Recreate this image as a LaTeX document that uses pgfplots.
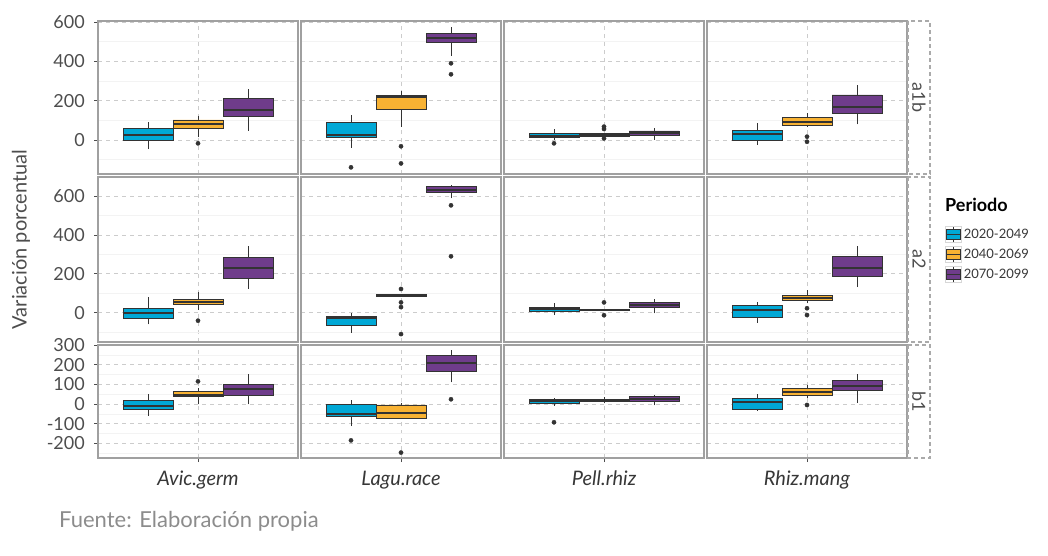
\documentclass[border=0pt]{standalone}
\usepackage{fontspec}
\setmainfont{Lato}
\usepackage{pgfplots}
\pgfplotsset{compat=1.18}

\definecolor{cblue}{RGB}{0,168,214}
\definecolor{corange}{RGB}{248,178,51}
\definecolor{cpurple}{RGB}{111,60,139}
\definecolor{boxline}{RGB}{51,51,51}
\definecolor{panelgray}{RGB}{160,160,160}
\definecolor{gridgray}{RGB}{204,204,204}
\definecolor{minorgray}{RGB}{243,243,243}
\definecolor{textgray}{RGB}{77,77,77}
\definecolor{labeldark}{RGB}{55,55,55}
\definecolor{stripgray}{RGB}{170,170,170}
\definecolor{keygray}{RGB}{215,215,215}
\definecolor{footgray}{RGB}{140,140,140}

\newcommand{\tickfont}{\fontsize{18}{20}\selectfont}

% one box: position, fill, lower whisker, Q1, median, Q3, upper whisker, outliers (x,y)
\newcommand{\bx}[8]{%
  \pgfmathsetmacro{\xl}{#1-0.15}%
  \pgfmathsetmacro{\xr}{#1+0.15}%
  \addplot[forget plot, draw=boxline, line width=0.8pt] coordinates {(#1,#3) (#1,#7)};
  \addplot[forget plot, draw=boxline, fill=#2, line width=0.8pt]
    coordinates {(\xl,#4) (\xr,#4) (\xr,#6) (\xl,#6) (\xl,#4)};
  \addplot[forget plot, draw=boxline, line width=2pt] coordinates {(\xl,#5) (\xr,#5)};
  \if\relax\detokenize{#8}\relax\else
  \addplot[forget plot, only marks, mark=*, mark size=2.1pt,
    mark options={draw=boxline, fill=boxline}] coordinates {#8};
  \fi}

\pgfplotsset{
  panel/.style={
    scale only axis, width=200pt, anchor=north west,
    xmin=0.4, xmax=1.6, xtick={1}, xticklabels={},
    axis line style={draw=panelgray, line width=1.1pt},
    xmajorgrids, ymajorgrids, yminorgrids,
    major grid style={draw=gridgray, line width=0.8pt, dash pattern=on 4pt off 4pt},
    minor grid style={draw=minorgray, line width=0.6pt},
    tick align=outside, major tick length=4pt,
    tick style={draw=textgray, line width=0.8pt},
    minor tick style={draw=none},
    tick pos=left,
    yticklabel style={font=\tickfont, text=textgray, anchor=east, inner sep=0pt, xshift=-9pt},
    xticklabel style={font=\fontsize{20}{22}\selectfont\itshape, text=labeldark,
      anchor=base, inner sep=0pt, yshift=-23pt},
  },
  rowA/.style={at={(#1pt,-21pt)}, height=153pt, ymin=-172.9, ymax=605,
    ytick={0,200,400,600}, minor ytick={-100,100,300,500}, xtick style={draw=none}},
  rowB/.style={at={(#1pt,-177pt)}, height=165pt, ymin=-150.6, ymax=697.7,
    ytick={0,200,400,600}, minor ytick={-100,100,300,500}, xtick style={draw=none}},
  rowC/.style={at={(#1pt,-345pt)}, height=113pt, ymin=-274.6, ymax=300,
    ytick={-200,-100,0,100,200,300}, minor ytick={-250,-150,-50,50,150,250}},
  inner/.style={yticklabels={}, ytick style={draw=none}},
  boxkey/.style={legend image code/.code={
      \draw[draw=keygray, fill=white, line width=0.6pt] (0pt,-8pt) rectangle (16pt,8pt);
      \draw[draw=boxline, line width=0.8pt] (8pt,-7.5pt) -- (8pt,7.5pt);
      \draw[##1, draw=boxline, line width=0.8pt] (1pt,-5pt) rectangle (15pt,5pt);
      \draw[draw=boxline, line width=1.2pt] (1pt,0pt) -- (15pt,0pt);}},
}

\begin{document}
\begin{tikzpicture}
\useasboundingbox (0,0) rectangle (1048pt,-556pt);

% ---------------- a1b ----------------
\begin{axis}[panel, rowA=98, yticklabels={0,200,400,600}]
\bx{0.7}{cblue}{-46}{-3}{25}{59}{93}{}
\bx{1.0}{corange}{14}{61}{80}{102}{122}{(1.0,-17)}
\bx{1.3}{cpurple}{46}{122}{153}{210}{259}{}
\end{axis}
\begin{axis}[panel, rowA=301, inner]
\bx{0.7}{cblue}{-39}{14}{27}{88}{127}{(0.7,-139)}
\bx{1.0}{corange}{68}{156}{217}{227}{249}{(1.0,-32) (1.0,-119)}
\bx{1.3}{cpurple}{429}{495}{517}{542}{573}{(1.3,390) (1.3,334)}
\end{axis}
\begin{axis}[panel, rowA=504, inner]
\bx{0.7}{cblue}{0}{14}{22}{34}{56}{(0.7,-17)}
\bx{1.0}{corange}{16}{19}{25}{32}{35}{(1.0,68) (1.0,56) (1.0,8)}
\bx{1.3}{cpurple}{0}{22}{34}{46}{63}{}
\end{axis}
\begin{axis}[panel, rowA=707, inner]
\bx{0.7}{cblue}{-25}{0}{31}{49}{85}{}
\bx{1.0}{corange}{65}{76}{93}{113}{136}{(1.0,17) (1.0,-9)}
\bx{1.3}{cpurple}{80}{136}{169}{229}{278}{}
\end{axis}

% ---------------- a2 ----------------
\begin{axis}[panel, rowB=98, yticklabels={0,200,400,600}]
\bx{0.7}{cblue}{-60}{-29}{0}{24}{82}{}
\bx{1.0}{corange}{14}{41}{57}{70}{105}{(1.0,-41)}
\bx{1.3}{cpurple}{122}{177}{231}{285}{343}{}
\end{axis}
\begin{axis}[panel, rowB=301, inner]
\bx{0.7}{cblue}{-103}{-65}{-26}{-20}{0}{}
\bx{1.0}{corange}{84}{86}{89}{92}{94}{(1.0,122) (1.0,53) (1.0,29) (1.0,-110)}
\bx{1.3}{cpurple}{588}{617}{631}{648}{657}{(1.3,552) (1.3,290)}
\end{axis}
\begin{axis}[panel, rowB=504, inner]
\bx{0.7}{cblue}{-12}{7}{19}{28}{48}{}
\bx{1.0}{corange}{10}{11}{15}{19}{21}{(1.0,53) (1.0,-13)}
\bx{1.3}{cpurple}{-3}{26}{41}{55}{70}{}
\end{axis}
\begin{axis}[panel, rowB=707, inner,
  legend style={at={(rel axis cs:1.19,0.703)}, anchor=north west, draw=none, fill=none,
    font=\fontsize{13}{15}\selectfont, text=labeldark, row sep=3.5pt,
    inner sep=0pt, nodes={inner sep=2pt}},
  legend cell align=left]
\addlegendimage{boxkey, fill=cblue}\addlegendentry{2020-2049}
\addlegendimage{boxkey, fill=corange}\addlegendentry{2040-2069}
\addlegendimage{boxkey, fill=cpurple}\addlegendentry{2070-2099}
\bx{0.7}{cblue}{-51}{-24}{12}{36}{55}{}
\bx{1.0}{corange}{48}{62}{77}{91}{117}{(1.0,23) (1.0,-12)}
\bx{1.3}{cpurple}{131}{189}{228}{288}{343}{}
\end{axis}

% ---------------- b1 ----------------
\begin{axis}[panel, rowC=98, yticklabels={-200,-100,0,100,200,300}, xticklabels={Avic.germ}]
\bx{0.7}{cblue}{-61}{-27}{-10}{17}{49}{}
\bx{1.0}{corange}{-2}{37}{46}{63}{80}{(1.0,115)}
\bx{1.3}{cpurple}{-2}{42}{75}{98}{151}{}
\end{axis}
\begin{axis}[panel, rowC=301, inner, xticklabels={Lagu.race}]
\bx{0.7}{cblue}{-112}{-64}{-51}{0}{20}{(0.7,-185)}
\bx{1.0}{corange}{-75}{-71}{-46}{-5}{3}{(1.0,-247)}
\bx{1.3}{cpurple}{110}{166}{210}{247}{275}{(1.3,24)}
\end{axis}
\begin{axis}[panel, rowC=504, inner, xticklabels={Pell.rhiz}]
\bx{0.7}{cblue}{-10}{3}{15}{25}{32}{(0.7,-93)}
\bx{1.0}{corange}{3}{14}{19}{25}{34}{}
\bx{1.3}{cpurple}{-7}{12}{25}{37}{46}{}
\end{axis}
\begin{axis}[panel, rowC=707, inner, xticklabels={Rhiz.mang}]
\bx{0.7}{cblue}{-34}{-25}{12}{29}{49}{}
\bx{1.0}{corange}{32}{42}{63}{80}{97}{(1.0,-5)}
\bx{1.3}{cpurple}{7}{71}{92}{122}{151}{}
\end{axis}

% facet strips on the right
\begin{scope}[every node/.style={rotate=-90, font=\tickfont, text=textgray}]
\draw[stripgray, line width=1.4pt, dash pattern=on 4pt off 3pt] (908pt,-21pt) rectangle (930pt,-174pt);
\draw[stripgray, line width=1.4pt, dash pattern=on 4pt off 3pt] (908pt,-177pt) rectangle (930pt,-342pt);
\draw[stripgray, line width=1.4pt, dash pattern=on 4pt off 3pt] (908pt,-345pt) rectangle (930pt,-458pt);
\node at (919pt,-97.5pt) {a1b};
\node at (919pt,-259.5pt) {a2};
\node at (919pt,-401.5pt) {b1};
\end{scope}

% titles
\node[rotate=90, font=\fontsize{20}{22}\selectfont, text=textgray] at (21pt,-239.5pt) {Variación porcentual};
\node[anchor=base west, inner sep=0pt, font=\fontsize{18}{20}\selectfont\bfseries, text=black] at (945pt,-211pt) {Periodo};
\node[anchor=base west, inner sep=0pt, font=\fontsize{22}{24}\selectfont, text=footgray] at (59pt,-527.7pt) {Fuente: Elaboración propia};
\end{tikzpicture}
\end{document}
